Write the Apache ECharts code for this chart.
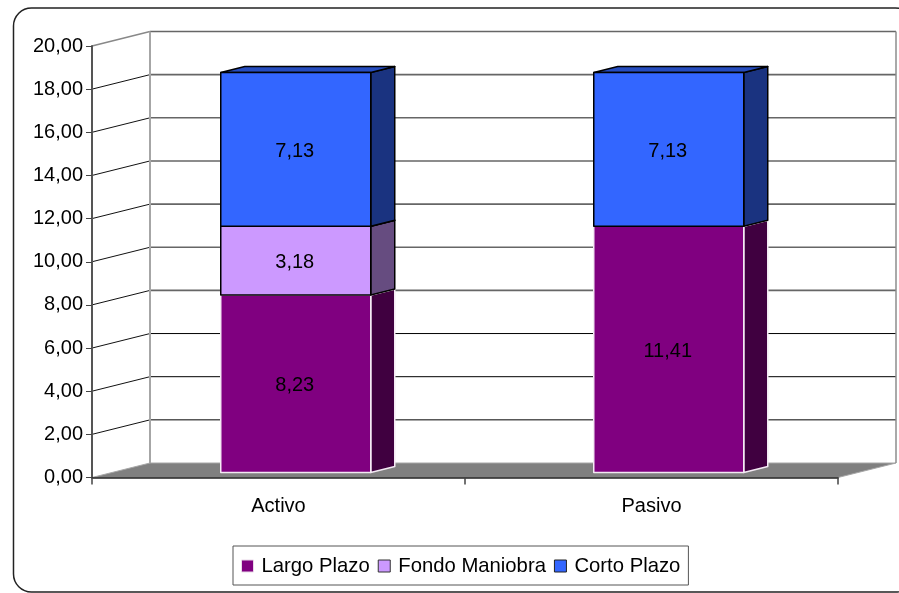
<!DOCTYPE html>
<html>
<head>
<meta charset="utf-8">
<style>html,body{margin:0;padding:0;background:#fff}#c{width:899px;height:593px}</style>
<script src="https://cdn.jsdelivr.net/npm/echarts@6/dist/echarts.min.js"></script>
</head>
<body>
<div id="c"></div>
<script>
const categories = ['Activo', 'Pasivo'];
const largoPlazo = [8.23, 11.41];
const fondoManiobra = [3.18, null];
const cortoPlazo = [7.13, 7.13];
const tickValues = [0, 2, 4, 6, 8, 10, 12, 14, 16, 18, 20];
const seriesNames = ['Largo Plazo', 'Fondo Maniobra', 'Corto Plazo'];

const FAMILY = '"Liberation Sans"';
const SIZE = 20;
const FONT = SIZE + 'px ' + FAMILY + ', Arial, sans-serif';
const fmt = v => v.toFixed(2).replace('.', ',');
const WALL = [58, -14.5], BAR_SHIFT = [17.25, -5], BAR_DEPTH = [24, -6], BAR_W = 150;

const palette = [
  {front:'#800080', side:'#400040', top:'#600060', stroke:'#f4eaf4'},
  {front:'#CC99FF', side:'#664C80', top:'#9973BF', stroke:'#000000'},
  {front:'#3366FF', side:'#1A3380', top:'#264DBF', stroke:'#000000'}
];

function wallItem(params, api) {
  const t = api.value(0);
  const cs = params.coordSys;
  const y = api.coord([0, t])[1];
  const x0 = cs.x, x1 = cs.x + cs.width;
  const bx0 = x0 + WALL[0], bx1 = x1 + WALL[0], by = y + WALL[1];
  const kids = [];
  const dark = t > 0 && t <= 6;
  const col = dark ? '#000000' : '#666666';
  const lw = dark ? 1 : 1.6;
  if (t === 0) {
    kids.push({type:'polygon', shape:{points:[[x0,y],[bx0,by],[bx1,by],[x1,y]]},
      style:{fill:'#808080', stroke:'#a6a6a6', lineWidth:1}});
  } else {
    kids.push({type:'line', shape:{x1:bx0,y1:by,x2:bx1,y2:by}, style:{stroke:col, lineWidth:lw}});
    kids.push({type:'line', shape:{x1:x0,y1:y,x2:bx0,y2:by},
      style:{stroke:t === 20 ? '#888888' : '#111111', lineWidth:t === 20 ? 1.5 : 1}});
  }
  if (t === 20) {
    const yb = api.coord([0, 0])[1] + WALL[1];
    kids.push({type:'line', shape:{x1:bx0,y1:by,x2:bx0,y2:yb}, style:{stroke:'#a6a6a6', lineWidth:2}});
    kids.push({type:'line', shape:{x1:bx1,y1:by,x2:bx1,y2:yb}, style:{stroke:'#8c8c8c', lineWidth:1.5}});
  }
  return {type:'group', children:kids};
}

function barItem(idx) {
  return function (params, api) {
    const val = api.value(1), base = api.value(2);
    if (val === null || val === undefined || isNaN(val)) return null;
    const cat = api.value(0);
    const p0 = api.coord([cat, base]), p1 = api.coord([cat, base + val]);
    const xl = p0[0] + BAR_SHIFT[0] - BAR_W / 2, xr = xl + BAR_W;
    const yb = p0[1] + BAR_SHIFT[1], yt = p1[1] + BAR_SHIFT[1];
    const dx = BAR_DEPTH[0], dy = BAR_DEPTH[1];
    const c = palette[idx];
    const edge = {stroke:c.stroke, lineWidth:1.5, lineJoin:'round'};
    return {type:'group', children:[
      {type:'polygon', shape:{points:[[xr,yb],[xr+dx,yb+dy],[xr+dx,yt+dy],[xr,yt]]},
        style:Object.assign({fill:c.side}, edge)},
      {type:'polygon', shape:{points:[[xl,yt],[xl+dx,yt+dy],[xr+dx,yt+dy],[xr,yt]]},
        style:Object.assign({fill:c.top}, edge)},
      {type:'rect', shape:{x:xl, y:yt, width:BAR_W, height:yb-yt},
        style:Object.assign({fill:c.front}, edge)},
      {type:'text', style:{text:fmt(val), x:(xl+xr)/2 - 1, y:(yb+yt)/2 + 2,
        align:'center', verticalAlign:'middle', font:FONT, fill:'#000'}}
    ]};
  };
}

const stacks = [largoPlazo, fondoManiobra, cortoPlazo];
const barSeries = stacks.map((arr, s) => ({
  type:'custom', name:seriesNames[s], z:4, silent:true,
  itemStyle:{color:palette[s].front},
  encode:{x:0, y:1},
  renderItem:barItem(s),
  data:arr.map((v, i) => {
    let base = 0;
    for (let k = 0; k < s; k++) base += stacks[k][i] || 0;
    return [i, v, base];
  })
}));

const chart = echarts.init(document.getElementById('c'), null, {renderer:'canvas'});
chart.setOption({
  animation:false,
  backgroundColor:'#fff',
  graphic:[{type:'rect', z:0, silent:true, shape:{x:13.5, y:8, width:900, height:584, r:18},
    style:{fill:'#fff', stroke:'#222', lineWidth:1.5}}],
  grid:{left:92, right:61, top:46, bottom:115.5, containLabel:false},
  xAxis:{type:'category', data:categories, z:3,
    axisLine:{lineStyle:{color:'#222', width:1.5}},
    axisTick:{show:true, alignWithLabel:false, length:7, lineStyle:{color:'#444', width:1.5}},
    axisLabel:{color:'#000', fontFamily:FAMILY, fontSize:SIZE, margin:19}},
  yAxis:{type:'value', min:0, max:20, interval:2, z:3,
    axisLine:{show:true, lineStyle:{color:'#555', width:2}},
    axisTick:{show:true, length:6, lineStyle:{color:'#444', width:1}},
    splitLine:{show:false},
    axisLabel:{color:'#000', fontFamily:FAMILY, fontSize:SIZE, margin:9, padding:[3,0,0,0], formatter:fmt}},
  legend:{left:233, top:546, padding:[6,8,5,8], itemGap:8, itemWidth:12, itemHeight:12,
    backgroundColor:'#fff', borderColor:'#555', borderWidth:1, borderRadius:0, icon:'rect',
    selectedMode:false,
    textStyle:{color:'#000', fontFamily:FAMILY, fontSize:20.3, padding:[3,0,0,3], lineHeight:25},
    data:[
      {name:seriesNames[0], itemStyle:{borderColor:'#e8d8e8', borderWidth:1}},
      {name:seriesNames[1], itemStyle:{borderColor:'#333', borderWidth:1}},
      {name:seriesNames[2], itemStyle:{borderColor:'#222', borderWidth:1}}
    ]},
  series:[{type:'custom', name:'_walls', z:1, silent:true, encode:{y:0}, renderItem:wallItem,
    data:tickValues.map(t => [t])}].concat(barSeries)
});
</script>
</body>
</html>
